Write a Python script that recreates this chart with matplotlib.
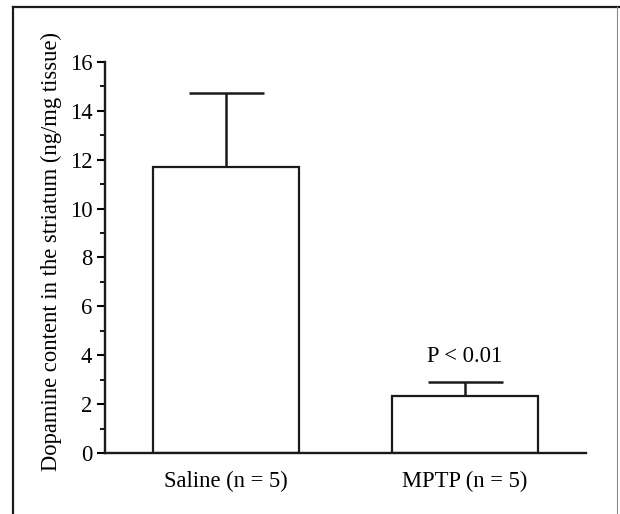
import matplotlib
matplotlib.use("Agg")
import matplotlib.pyplot as plt
from matplotlib.lines import Line2D
from matplotlib.ticker import MultipleLocator

categories = ["Saline (n = 5)", "MPTP (n = 5)"]
means = [11.72, 2.33]
sem = [3.03, 0.57]
yticks = [0, 2, 4, 6, 8, 10, 12, 14, 16]
annotation = "P < 0.01"

plt.rcParams['font.family'] = ['Liberation Serif', 'DejaVu Serif']
FS = 16.3

fig = plt.figure(figsize=(6.2, 5.14), dpi=100)
ax = fig.add_axes([0.169, 0.1187, 0.776, 0.7607])

x = list(range(len(categories)))
ax.bar(x, means, width=0.61, color='white', edgecolor='#1a1a1a', linewidth=1.6, zorder=2)
ax.errorbar(x, means, yerr=[[0, 0], sem], fmt='none', ecolor='#1a1a1a',
            elinewidth=1.8, capsize=27, capthick=1.8, zorder=1)

ax.set_xlim(-0.506, 1.506)
ax.set_ylim(0, 16)
ax.set_yticks(yticks)
ax.yaxis.set_minor_locator(MultipleLocator(1))
ax.set_xticks(x)
ax.set_xticklabels(categories, fontsize=FS)
ax.tick_params(axis='x', length=0, pad=13)
ax.tick_params(axis='y', which='major', length=6, width=1.5, direction='out', labelsize=FS, pad=3)
ax.tick_params(axis='y', which='minor', length=3.5, width=1.3, direction='out')
for s in ['top', 'right']:
    ax.spines[s].set_visible(False)
for s in ['left', 'bottom']:
    ax.spines[s].set_linewidth(1.7)
    ax.spines[s].set_color('#1a1a1a')

ax.set_ylabel("Dopamine content in the striatum (ng/mg tissue)", fontsize=FS, labelpad=3)
ax.yaxis.set_label_coords(-0.088, 0.515)
ax.text(1, 3.72, annotation, ha='center', va='baseline', fontsize=FS)

# outer frame
fig.add_artist(Line2D([13/620, 13/620], [0, 1 - 7/514], transform=fig.transFigure, color='#1a1a1a', lw=1.6))
fig.add_artist(Line2D([13/620, 619/620], [1 - 7/514, 1 - 7/514], transform=fig.transFigure, color='#1a1a1a', lw=1.6))
fig.add_artist(Line2D([617/620, 617/620], [0, 1 - 7/514], transform=fig.transFigure, color='#888888', lw=0.8))

fig.savefig("out.png", dpi=100)
